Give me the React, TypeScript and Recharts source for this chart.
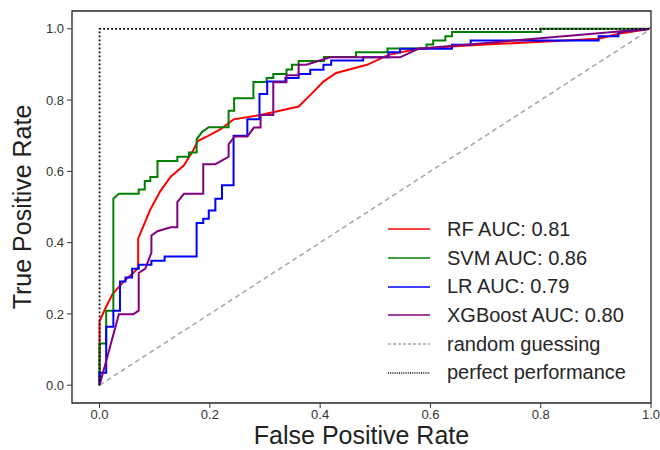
import React from 'react';
import { LineChart, Line, XAxis, YAxis, Legend, ReferenceArea } from 'recharts';

// ROC points (fpr / tpr pairs)
const rfFpr = [0, 0, 0.012, 0.023, 0.035, 0.05, 0.061, 0.07, 0.07, 0.092, 0.11, 0.129, 0.153, 0.171, 0.178, 0.196, 0.219, 0.243, 0.292, 0.361, 0.382, 0.406, 0.429, 0.485, 0.524, 0.578, 0.666, 0.905, 0.941, 1];
const rfTpr = [0, 0.18, 0.22, 0.254, 0.276, 0.3, 0.315, 0.329, 0.411, 0.493, 0.544, 0.585, 0.617, 0.662, 0.685, 0.699, 0.718, 0.746, 0.758, 0.782, 0.814, 0.852, 0.876, 0.899, 0.927, 0.944, 0.953, 0.972, 0.986, 1];

const svmFpr = [0, 0, 0.012, 0.012, 0.025, 0.025, 0.035, 0.071, 0.071, 0.082, 0.082, 0.092, 0.092, 0.105, 0.105, 0.141, 0.141, 0.162, 0.162, 0.176, 0.176, 0.186, 0.198, 0.234, 0.234, 0.244, 0.244, 0.279, 0.279, 0.303, 0.303, 0.315, 0.315, 0.339, 0.339, 0.349, 0.349, 0.361, 0.361, 0.407, 0.407, 0.465, 0.465, 0.522, 0.522, 0.593, 0.593, 0.605, 0.605, 0.627, 0.627, 0.639, 0.639, 0.8, 0.8, 1];
const svmTpr = [0, 0.117, 0.117, 0.209, 0.209, 0.523, 0.537, 0.537, 0.549, 0.549, 0.573, 0.573, 0.584, 0.584, 0.629, 0.629, 0.641, 0.641, 0.653, 0.653, 0.69, 0.711, 0.724, 0.724, 0.77, 0.77, 0.805, 0.805, 0.851, 0.851, 0.862, 0.862, 0.873, 0.873, 0.886, 0.886, 0.899, 0.899, 0.91, 0.91, 0.921, 0.921, 0.934, 0.934, 0.945, 0.945, 0.956, 0.956, 0.967, 0.967, 0.979, 0.979, 0.991, 0.991, 1, 1];

const lrFpr = [0, 0, 0.012, 0.012, 0.025, 0.025, 0.037, 0.037, 0.047, 0.047, 0.059, 0.059, 0.071, 0.071, 0.094, 0.094, 0.118, 0.118, 0.176, 0.176, 0.188, 0.188, 0.198, 0.198, 0.21, 0.21, 0.222, 0.222, 0.243, 0.243, 0.268, 0.268, 0.29, 0.29, 0.304, 0.304, 0.337, 0.337, 0.361, 0.361, 0.382, 0.382, 0.406, 0.406, 0.42, 0.42, 0.478, 0.478, 0.524, 0.524, 0.545, 0.545, 0.639, 0.639, 0.673, 0.673, 0.905, 0.905, 0.941, 0.941, 1];
const lrTpr = [0, 0.035, 0.035, 0.164, 0.164, 0.209, 0.209, 0.291, 0.291, 0.302, 0.302, 0.327, 0.327, 0.338, 0.338, 0.349, 0.349, 0.361, 0.361, 0.455, 0.455, 0.467, 0.467, 0.49, 0.49, 0.523, 0.523, 0.561, 0.561, 0.7, 0.7, 0.746, 0.746, 0.817, 0.817, 0.852, 0.852, 0.862, 0.862, 0.873, 0.873, 0.885, 0.885, 0.899, 0.899, 0.911, 0.911, 0.92, 0.92, 0.934, 0.934, 0.944, 0.944, 0.955, 0.955, 0.967, 0.967, 0.979, 0.979, 0.991, 1];

const xgbFpr = [0, 0.035, 0.061, 0.071, 0.071, 0.083, 0.094, 0.094, 0.105, 0.129, 0.141, 0.141, 0.153, 0.188, 0.188, 0.21, 0.234, 0.234, 0.245, 0.268, 0.28, 0.292, 0.292, 0.315, 0.315, 0.339, 0.339, 0.361, 0.361, 0.375, 0.418, 0.545, 0.578, 1];
const xgbTpr = [0, 0.199, 0.199, 0.209, 0.315, 0.327, 0.372, 0.42, 0.432, 0.443, 0.443, 0.514, 0.537, 0.537, 0.62, 0.62, 0.641, 0.676, 0.698, 0.698, 0.723, 0.723, 0.758, 0.758, 0.85, 0.85, 0.87, 0.87, 0.899, 0.899, 0.92, 0.92, 0.944, 1];

const randomFpr = [0, 1];
const randomTpr = [0, 1];
const perfectFpr = [0, 0, 1];
const perfectTpr = [0, 1, 1];

const ticks = [0, 0.2, 0.4, 0.6, 0.8, 1.0];

const toPoints = (fpr: number[], tpr: number[]) => fpr.map((x, i) => ({ fpr: x, tpr: tpr[i] }));

const series = [
  { name: 'RF AUC: 0.81', color: '#ff0000', data: toPoints(rfFpr, rfTpr), width: 2, dash: undefined, legendDash: undefined },
  { name: 'SVM AUC: 0.86', color: '#008000', data: toPoints(svmFpr, svmTpr), width: 2, dash: undefined, legendDash: undefined },
  { name: 'LR AUC: 0.79', color: '#0000ff', data: toPoints(lrFpr, lrTpr), width: 2, dash: undefined, legendDash: undefined },
  { name: 'XGBoost AUC: 0.80', color: '#800080', data: toPoints(xgbFpr, xgbTpr), width: 2, dash: undefined, legendDash: undefined },
  { name: 'random guessing', color: '#a6a6a6', data: toPoints(randomFpr, randomTpr), width: 1.5, dash: '5 3.5', legendDash: '3 2' },
  { name: 'perfect performance', color: '#000000', data: toPoints(perfectFpr, perfectTpr), width: 1.8, dash: '1.8 2.2', legendDash: '1 1.2' },
];

const font = '"Liberation Sans", Arial, sans-serif';

const renderLegend = () => (
  <div style={{ fontFamily: font, fontSize: 20, color: '#262626' }}>
    {series.map(s => (
      <div key={s.name} style={{ display: 'flex', alignItems: 'center', height: 28.7 }}>
        <svg width={64} height={10} style={{ flex: 'none' }}>
          <line x1={5} y1={5} x2={47} y2={5} stroke={s.color} strokeWidth={1.5} strokeDasharray={s.legendDash} />
        </svg>
        <span style={{ whiteSpace: 'nowrap' }}>{s.name}</span>
      </div>
    ))}
  </div>
);

export default function App() {
  return (
    <div style={{ position: 'absolute', left: 0, top: 0, width: 660, height: 450, background: '#fff', fontFamily: font }}>
      <LineChart width={660} height={450} margin={{ top: 11, right: 9, bottom: 0, left: 0 }}>
        <XAxis
          type="number"
          dataKey="fpr"
          domain={[-0.05, 1]}
          allowDataOverflow
          ticks={ticks}
          tickFormatter={(v: number) => v.toFixed(1)}
          axisLine={false}
          tickLine={{ stroke: '#333' }}
          tickSize={5}
          tickMargin={2}
          tick={{ fill: '#333', fontSize: 13 }}
          height={47}
          label={{ value: 'False Positive Rate', position: 'insideBottom', offset: 6, fill: '#222', fontSize: 25 }}
        />
        <YAxis
          type="number"
          domain={[-0.05, 1.05]}
          allowDataOverflow
          ticks={ticks}
          tickFormatter={(v: number) => v.toFixed(1)}
          axisLine={false}
          tickLine={{ stroke: '#333' }}
          tickSize={5}
          tickMargin={3}
          tick={{ fill: '#333', fontSize: 13 }}
          width={72}
          label={{ value: 'True Positive Rate', angle: -90, position: 'insideLeft', offset: 22, fill: '#222', fontSize: 25, style: { textAnchor: 'middle' } }}
        />
        <ReferenceArea x1={-0.05} x2={1} y1={-0.05} y2={1.05} fill="none" stroke="#262626" strokeWidth={1.3} ifOverflow="visible" />
        {series.map(s => (
          <Line
            key={s.name}
            data={s.data}
            dataKey="tpr"
            name={s.name}
            type="linear"
            stroke={s.color}
            strokeWidth={s.width}
            strokeDasharray={s.dash}
            dot={false}
            activeDot={false}
            isAnimationActive={false}
          />
        ))}
        <Legend
          layout="vertical"
          align="center"
          verticalAlign="middle"
          content={renderLegend}
          wrapperStyle={{ left: 383, top: 215, width: 270 }}
        />
      </LineChart>
    </div>
  );
}
